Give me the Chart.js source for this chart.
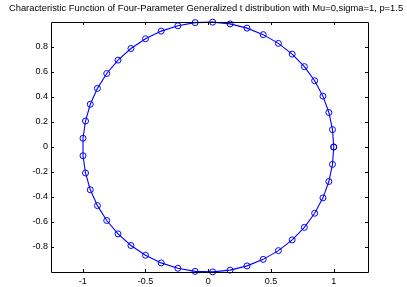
<!DOCTYPE html>
<html>
<head>
<meta charset="utf-8">
<script src="https://cdn.jsdelivr.net/npm/chart.js@4/dist/chart.umd.min.js"></script>
<style>
  html, body { margin: 0; padding: 0; background: #fff; }
  #wrap { width: 407px; height: 287px; }
</style>
</head>
<body>
<div id="wrap"><canvas id="cfChart" width="407" height="287"></canvas></div>
<script>
var realPart = [1.000, 0.990, 0.961, 0.914, 0.848, 0.766, 0.669, 0.559, 0.438, 0.309,
  0.174, 0.035, -0.105, -0.242, -0.375, -0.500, -0.616, -0.719, -0.809, -0.883,
  -0.940, -0.978, -0.998, -0.998, -0.978, -0.940, -0.883, -0.809, -0.719, -0.616,
  -0.500, -0.375, -0.242, -0.105, 0.035, 0.174, 0.309, 0.438, 0.559, 0.669,
  0.766, 0.848, 0.914, 0.961, 0.990, 1.000];
var imagPart = [0.000, 0.139, 0.276, 0.407, 0.530, 0.643, 0.743, 0.829, 0.899, 0.951,
  0.985, 0.999, 0.995, 0.970, 0.927, 0.866, 0.788, 0.695, 0.588, 0.469,
  0.342, 0.208, 0.070, -0.070, -0.208, -0.342, -0.469, -0.588, -0.695, -0.788,
  -0.866, -0.927, -0.970, -0.995, -0.999, -0.985, -0.951, -0.899, -0.829, -0.743,
  -0.643, -0.530, -0.407, -0.276, -0.139, 0.000];
var xTicks = [-1, -0.5, 0, 0.5, 1];
var yTicks = [-0.8, -0.6, -0.4, -0.2, 0, 0.2, 0.4, 0.6, 0.8];
var titleText = "Characteristic Function of Four-Parameter Generalized t distribution with Mu=0,sigma=1, p=1.5";

var points = realPart.map(function (v, i) { return { x: v, y: imagPart[i] }; });

// matlab style box + inward ticks + title
var matlabAxes = {
  id: "matlabAxes",
  afterDraw: function (chart) {
    var c = chart.ctx, a = chart.chartArea;
    var xs = chart.scales.x, ys = chart.scales.y;
    c.save();
    c.strokeStyle = "#000";
    c.lineWidth = 1;
    c.beginPath();
    c.rect(Math.round(a.left) + 0.5, Math.round(a.top) + 0.5,
      Math.round(a.right - a.left), Math.round(a.bottom - a.top));
    c.stroke();
    c.beginPath();
    xTicks.forEach(function (t) {
      var px = Math.round(xs.getPixelForValue(t)) + 0.5;
      c.moveTo(px, a.bottom); c.lineTo(px, a.bottom - 3);
      c.moveTo(px, a.top); c.lineTo(px, a.top + 3);
    });
    yTicks.forEach(function (t) {
      var py = Math.round(ys.getPixelForValue(t)) + 0.5;
      c.moveTo(a.left, py); c.lineTo(a.left + 3, py);
      c.moveTo(a.right, py); c.lineTo(a.right - 3, py);
    });
    c.stroke();
    c.fillStyle = "#000";
    c.font = "9.4px 'Liberation Sans', Arial, sans-serif";
    c.textAlign = "center";
    c.textBaseline = "middle";
    c.fillText(titleText, 206, 8);
    c.restore();
  }
};

new Chart(document.getElementById("cfChart").getContext("2d"), {
  type: "scatter",
  data: {
    datasets: [{
      data: points,
      showLine: true,
      borderColor: "#0000ff",
      borderWidth: 1.1,
      pointStyle: "circle",
      pointRadius: 3,
      pointBorderWidth: 1,
      pointBorderColor: "#0000ff",
      pointBackgroundColor: "rgba(0,0,0,0)",
      backgroundColor: "rgba(0,0,0,0)",
      tension: 0,
      clip: false
    }]
  },
  options: {
    responsive: false,
    animation: false,
    layout: { padding: { top: 22, right: 39, left: 0, bottom: 0 } },
    plugins: {
      legend: { display: false },
      tooltip: { enabled: false },
      title: { display: false }
    },
    scales: {
      x: {
        type: "linear",
        min: -1.253,
        max: 1.273,
        afterBuildTicks: function (s) { s.ticks = xTicks.map(function (v) { return { value: v }; }); },
        afterFit: function (s) { s.height = 15; },
        grid: { display: false, drawTicks: false },
        border: { display: false },
        ticks: {
          padding: 4,
          color: "#000",
          font: { family: "'Liberation Sans', Arial, sans-serif", size: 9 },
          callback: function (v) { return String(v); }
        }
      },
      y: {
        type: "linear",
        min: -1,
        max: 1,
        afterBuildTicks: function (s) { s.ticks = yTicks.map(function (v) { return { value: v }; }); },
        afterFit: function (s) { s.width = 51; },
        grid: { display: false, drawTicks: false },
        border: { display: false },
        ticks: {
          padding: 3,
          color: "#000",
          font: { family: "'Liberation Sans', Arial, sans-serif", size: 9 },
          callback: function (v) { return String(Math.round(v * 10) / 10); }
        }
      }
    }
  },
  plugins: [matlabAxes]
});
</script>
</body>
</html>
